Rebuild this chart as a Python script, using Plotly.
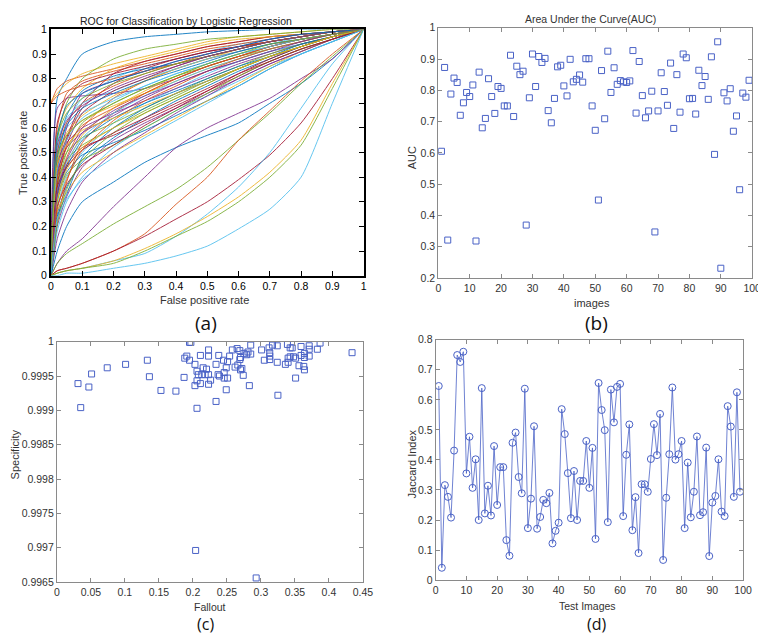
import plotly.graph_objects as go

# ---------------- data ----------------
# (a) ROC curves: TPR read at a fixed set of FPR values
roc_fpr = [0, 0.02, 0.05, 0.1, 0.2, 0.3, 0.4, 0.5, 0.6, 0.7, 0.8, 0.9, 1.0]
roc_upper = [
    [0, 0.72, 0.80, 0.90, 0.95, 0.97, 0.98, 0.99, 0.995, 1, 1, 1, 1],
    [0.70, 0.76, 0.79, 0.81, 0.84, 0.87, 0.90, 0.93, 0.95, 0.97, 0.98, 0.99, 1],
    [0.71, 0.74, 0.78, 0.82, 0.86, 0.89, 0.92, 0.95, 0.97, 0.98, 0.99, 1, 1],
    [0, 0.68, 0.72, 0.73, 0.74, 0.76, 0.80, 0.85, 0.89, 0.93, 0.96, 0.98, 1],
    [0, 0.55, 0.70, 0.80, 0.88, 0.92, 0.94, 0.96, 0.97, 0.98, 0.99, 1, 1],
    [0, 0.45, 0.62, 0.72, 0.80, 0.85, 0.88, 0.91, 0.94, 0.96, 0.98, 0.99, 1],
    [0, 0.40, 0.55, 0.68, 0.78, 0.84, 0.88, 0.91, 0.93, 0.95, 0.97, 0.99, 1],
    [0, 0.50, 0.65, 0.75, 0.81, 0.84, 0.86, 0.89, 0.92, 0.95, 0.97, 0.99, 1],
    [0, 0.35, 0.48, 0.60, 0.72, 0.79, 0.84, 0.88, 0.91, 0.94, 0.96, 0.98, 1],
    [0, 0.30, 0.45, 0.57, 0.68, 0.75, 0.81, 0.86, 0.90, 0.93, 0.96, 0.98, 1],
    [0, 0.42, 0.52, 0.58, 0.65, 0.72, 0.78, 0.83, 0.87, 0.91, 0.94, 0.97, 1],
    [0, 0.38, 0.47, 0.53, 0.60, 0.67, 0.73, 0.79, 0.84, 0.89, 0.93, 0.97, 1],
    [0, 0.28, 0.40, 0.50, 0.62, 0.70, 0.76, 0.82, 0.87, 0.91, 0.94, 0.97, 1],
    [0, 0.33, 0.45, 0.52, 0.57, 0.63, 0.69, 0.75, 0.81, 0.87, 0.92, 0.96, 1],
    [0, 0.25, 0.36, 0.46, 0.56, 0.64, 0.71, 0.77, 0.83, 0.88, 0.93, 0.97, 1],
    [0, 0.60, 0.74, 0.79, 0.83, 0.86, 0.89, 0.92, 0.94, 0.96, 0.98, 0.99, 1],
    [0, 0.48, 0.58, 0.65, 0.73, 0.79, 0.84, 0.88, 0.92, 0.95, 0.97, 0.99, 1],
    [0, 0.20, 0.32, 0.44, 0.55, 0.62, 0.68, 0.74, 0.80, 0.86, 0.91, 0.96, 1],
    [0, 0.36, 0.50, 0.62, 0.70, 0.76, 0.81, 0.85, 0.89, 0.92, 0.95, 0.98, 1],
    [0, 0.52, 0.60, 0.66, 0.72, 0.77, 0.82, 0.86, 0.90, 0.93, 0.96, 0.98, 1],
    [0, 0.44, 0.56, 0.70, 0.82, 0.87, 0.90, 0.93, 0.95, 0.97, 0.98, 0.99, 1],
    [0, 0.32, 0.42, 0.49, 0.54, 0.59, 0.65, 0.71, 0.77, 0.84, 0.90, 0.95, 1],
    [0, 0.22, 0.38, 0.54, 0.66, 0.74, 0.80, 0.85, 0.89, 0.93, 0.96, 0.98, 1],
    [0, 0.58, 0.68, 0.76, 0.84, 0.88, 0.91, 0.94, 0.96, 0.97, 0.98, 0.99, 1],
    [0, 0.46, 0.54, 0.60, 0.66, 0.71, 0.76, 0.81, 0.86, 0.90, 0.94, 0.97, 1],
    [0, 0.40, 0.50, 0.56, 0.62, 0.68, 0.74, 0.80, 0.85, 0.90, 0.94, 0.97, 1],
    [0, 0.18, 0.30, 0.40, 0.52, 0.60, 0.67, 0.73, 0.79, 0.85, 0.90, 0.95, 1],
    [0, 0.62, 0.72, 0.78, 0.82, 0.85, 0.88, 0.91, 0.93, 0.95, 0.97, 0.99, 1],
    [0, 0.34, 0.44, 0.55, 0.64, 0.70, 0.75, 0.80, 0.85, 0.89, 0.93, 0.97, 1],
    [0, 0.50, 0.62, 0.70, 0.77, 0.82, 0.86, 0.90, 0.93, 0.95, 0.97, 0.99, 1],
    [0, 0.26, 0.34, 0.42, 0.50, 0.57, 0.64, 0.71, 0.78, 0.85, 0.91, 0.96, 1],
    [0, 0.42, 0.60, 0.74, 0.79, 0.83, 0.87, 0.90, 0.93, 0.96, 0.98, 0.99, 1],
    [0, 0.30, 0.41, 0.47, 0.53, 0.60, 0.67, 0.74, 0.81, 0.87, 0.92, 0.96, 1],
    [0, 0.54, 0.64, 0.70, 0.75, 0.80, 0.84, 0.88, 0.91, 0.94, 0.97, 0.99, 1],
    [0, 0.37, 0.53, 0.66, 0.75, 0.80, 0.85, 0.89, 0.92, 0.95, 0.97, 0.99, 1],
    [0, 0.24, 0.33, 0.48, 0.60, 0.68, 0.74, 0.79, 0.84, 0.89, 0.94, 0.97, 1],
    [0.70, 0.73, 0.75, 0.77, 0.80, 0.83, 0.86, 0.89, 0.92, 0.95, 0.97, 0.99, 1],
    [0, 0.46, 0.57, 0.63, 0.69, 0.74, 0.79, 0.84, 0.88, 0.92, 0.95, 0.98, 1],
    [0, 0.15, 0.26, 0.38, 0.50, 0.58, 0.66, 0.73, 0.80, 0.86, 0.91, 0.96, 1],
    [0, 0.56, 0.66, 0.72, 0.78, 0.82, 0.86, 0.89, 0.92, 0.95, 0.97, 0.99, 1],
    [0, 0.35, 0.46, 0.56, 0.66, 0.73, 0.79, 0.84, 0.88, 0.92, 0.95, 0.98, 1],
    [0, 0.28, 0.37, 0.45, 0.53, 0.61, 0.68, 0.75, 0.82, 0.88, 0.93, 0.97, 1],
    [0, 0.48, 0.61, 0.68, 0.74, 0.79, 0.83, 0.87, 0.91, 0.94, 0.96, 0.98, 1],
    [0, 0.39, 0.52, 0.61, 0.68, 0.74, 0.80, 0.85, 0.89, 0.93, 0.96, 0.98, 1],
    [0, 0.31, 0.43, 0.52, 0.60, 0.66, 0.72, 0.78, 0.84, 0.89, 0.93, 0.97, 1],
    [0, 0.53, 0.63, 0.69, 0.76, 0.81, 0.85, 0.89, 0.92, 0.95, 0.97, 0.99, 1],
    [0, 0.21, 0.35, 0.47, 0.58, 0.66, 0.72, 0.78, 0.84, 0.89, 0.93, 0.97, 1],
    [0, 0.43, 0.55, 0.64, 0.71, 0.77, 0.82, 0.86, 0.90, 0.93, 0.96, 0.98, 1],
    [0, 0.36, 0.44, 0.51, 0.58, 0.64, 0.70, 0.76, 0.82, 0.87, 0.92, 0.96, 1],
    [0, 0.57, 0.69, 0.74, 0.79, 0.83, 0.87, 0.90, 0.93, 0.96, 0.98, 0.99, 1],
    [0, 0.27, 0.39, 0.51, 0.63, 0.71, 0.77, 0.83, 0.88, 0.92, 0.95, 0.98, 1],
    [0, 0.45, 0.53, 0.59, 0.64, 0.69, 0.74, 0.79, 0.84, 0.89, 0.93, 0.97, 1],
    [0, 0.33, 0.47, 0.58, 0.67, 0.73, 0.78, 0.83, 0.87, 0.91, 0.95, 0.98, 1],
    [0, 0.49, 0.57, 0.63, 0.70, 0.76, 0.81, 0.86, 0.90, 0.94, 0.96, 0.98, 1],
    [0, 0.23, 0.31, 0.39, 0.48, 0.56, 0.63, 0.70, 0.77, 0.84, 0.90, 0.95, 1],
]
roc_lower = [
    [0, 0.10, 0.20, 0.30, 0.38, 0.46, 0.52, 0.57, 0.62, 0.70, 0.78, 0.88, 1],
    [0, 0.05, 0.10, 0.15, 0.28, 0.40, 0.52, 0.60, 0.66, 0.72, 0.80, 0.88, 1],
    [0, 0.05, 0.09, 0.13, 0.21, 0.28, 0.35, 0.44, 0.55, 0.66, 0.78, 0.89, 1],
    [0, 0.02, 0.03, 0.05, 0.10, 0.17, 0.29, 0.40, 0.55, 0.67, 0.79, 0.90, 1],
    [0, 0.02, 0.03, 0.05, 0.10, 0.16, 0.23, 0.30, 0.39, 0.49, 0.62, 0.80, 1],
    [0, 0.01, 0.02, 0.03, 0.06, 0.09, 0.16, 0.25, 0.36, 0.50, 0.68, 0.86, 1],
    [0, 0.01, 0.02, 0.03, 0.06, 0.11, 0.17, 0.24, 0.32, 0.42, 0.55, 0.78, 1],
    [0, 0.01, 0.02, 0.03, 0.05, 0.10, 0.16, 0.22, 0.30, 0.40, 0.53, 0.76, 1],
    [0, 0.0, 0.01, 0.01, 0.03, 0.05, 0.08, 0.12, 0.19, 0.27, 0.40, 0.70, 1],
]
roc_lower_colors = ["#0072BD", "#7E2F8E", "#77AC30", "#D95319", "#A2142F",
                    "#4DBEEE", "#EDB120", "#77AC30", "#4DBEEE"]

# (b) AUC per image
auc = [0.605, 0.873, 0.321, 0.788, 0.839, 0.825, 0.720, 0.760, 0.793, 0.780,
       0.817, 0.318, 0.858, 0.680, 0.710, 0.837, 0.780, 0.726, 0.812, 0.806,
       0.750, 0.750, 0.912, 0.716, 0.877, 0.850, 0.861, 0.369, 0.776, 0.916,
       0.812, 0.908, 0.889, 0.902, 0.735, 0.696, 0.774, 0.875, 0.880, 0.814,
       0.782, 0.899, 0.827, 0.835, 0.849, 0.826, 0.901, 0.901, 0.750, 0.672,
       0.449, 0.863, 0.709, 0.925, 0.793, 0.872, 0.819, 0.831, 0.827, 0.825,
       0.830, 0.927, 0.727, 0.892, 0.783, 0.712, 0.734, 0.797, 0.347, 0.734,
       0.856, 0.796, 0.752, 0.887, 0.678, 0.850, 0.730, 0.916, 0.904, 0.773,
       0.774, 0.724, 0.864, 0.815, 0.844, 0.771, 0.907, 0.595, 0.955, 0.231,
       0.792, 0.766, 0.805, 0.669, 0.718, 0.482, 0.791, 0.778, 0.832]
auc_images = list(range(1, len(auc) + 1))

# (c) Fallout vs Specificity
fallout = [0.031, 0.035, 0.047, 0.051, 0.074, 0.101, 0.133, 0.136, 0.153, 0.175,
           0.188, 0.187, 0.191, 0.195, 0.197, 0.195, 0.203, 0.203, 0.204, 0.206,
           0.206, 0.206, 0.208, 0.211, 0.211, 0.213, 0.215, 0.218, 0.220, 0.223,
           0.223, 0.223, 0.223, 0.226, 0.234, 0.234, 0.238, 0.237, 0.239, 0.245,
           0.246, 0.246, 0.249, 0.249, 0.251, 0.251, 0.254, 0.258, 0.262, 0.265,
           0.266, 0.269, 0.269, 0.270, 0.270, 0.272, 0.274, 0.275, 0.279, 0.281,
           0.283, 0.285, 0.285, 0.293, 0.301, 0.305, 0.312, 0.313, 0.313, 0.313,
           0.317, 0.324, 0.324, 0.325, 0.336, 0.339, 0.340, 0.340, 0.343, 0.343,
           0.346, 0.348, 0.351, 0.351, 0.356, 0.359, 0.359, 0.363, 0.364, 0.364,
           0.364, 0.371, 0.371, 0.371, 0.383, 0.387, 0.434]
specificity = [0.99939, 0.99904, 0.99934, 0.99953, 0.99962, 0.99967, 0.99973, 0.99949, 0.99929, 0.99928,
               0.99976, 0.99948, 0.99979, 0.99999, 0.99999, 0.99973, 0.99967, 0.99936, 0.99696, 0.99957,
               0.99943, 0.99903, 0.99952, 0.99980, 0.99939, 0.99952, 0.99962, 0.99952, 0.99960, 0.99988,
               0.99979, 0.99952, 0.99938, 0.99944, 0.99967, 0.99913, 0.99980, 0.99952, 0.99950, 0.99973,
               0.99955, 0.99947, 0.99962, 0.99930, 0.99971, 0.99947, 0.99979, 0.99988, 0.99963, 0.99990,
               0.99966, 0.99974, 0.99987, 0.99977, 0.99959, 0.99961, 0.99951, 0.99983, 0.99981, 0.99985,
               0.99936, 0.99995, 0.99982, 0.99656, 0.99988, 0.99973, 0.99991, 0.99974, 0.99984, 0.99979,
               0.99995, 0.99994, 0.99970, 0.99922, 0.99967, 0.99996, 0.99976, 0.99970, 0.99991, 0.99978,
               0.99991, 0.99978, 0.99976, 0.99947, 0.99965, 0.99993, 0.99980, 0.99964, 0.99959, 0.99977,
               0.99983, 0.99994, 0.99989, 0.99979, 0.99989, 0.99998, 0.99984]
spec_ticks = [0.9965, 0.997, 0.9975, 0.998, 0.9985, 0.999, 0.9995, 1]
spec_ticktext = ["0.9965", "0.997", "0.9975", "0.998", "0.9985", "0.999", "0.9995", "1"]

# (d) Jaccard index per test image
jaccard = [0.646, 0.041, 0.316, 0.277, 0.208, 0.431, 0.749, 0.726, 0.760, 0.355,
           0.477, 0.307, 0.402, 0.200, 0.639, 0.222, 0.314, 0.215, 0.446, 0.250,
           0.376, 0.376, 0.133, 0.081, 0.457, 0.491, 0.343, 0.289, 0.637, 0.173,
           0.271, 0.512, 0.171, 0.210, 0.267, 0.256, 0.290, 0.122, 0.164, 0.191,
           0.569, 0.486, 0.356, 0.206, 0.363, 0.200, 0.330, 0.330, 0.463, 0.307,
           0.440, 0.137, 0.656, 0.566, 0.499, 0.193, 0.634, 0.525, 0.643, 0.653,
           0.213, 0.417, 0.518, 0.166, 0.276, 0.090, 0.319, 0.319, 0.294, 0.403,
           0.519, 0.416, 0.553, 0.067, 0.274, 0.419, 0.641, 0.401, 0.419, 0.463,
           0.173, 0.391, 0.209, 0.294, 0.478, 0.216, 0.226, 0.441, 0.080, 0.258,
           0.280, 0.402, 0.228, 0.213, 0.579, 0.511, 0.277, 0.625, 0.294]
test_images = list(range(1, len(jaccard) + 1))

# ---------------- styling ----------------
W, H = 766, 635
MATLAB_COLORS = ["#0072BD", "#D95319", "#EDB120", "#7E2F8E", "#77AC30", "#4DBEEE", "#A2142F"]
MARKER_BLUE = "#4a62c6"
GRAY = "#8a8a8a"
FONT = "Liberation Sans"


def px_dom_x(a, b):
    return [a / W, b / W]


def px_dom_y(top, bottom):
    return [1 - bottom / H, 1 - top / H]


fig = go.Figure()

for i, tpr in enumerate(roc_upper):
    fig.add_trace(go.Scatter(x=roc_fpr, y=tpr, mode="lines", xaxis="x", yaxis="y",
                             line=dict(color=MATLAB_COLORS[i % 7], width=1,
                                       shape="spline", smoothing=0.6),
                             opacity=0.85))
for tpr, c in zip(roc_lower, roc_lower_colors):
    fig.add_trace(go.Scatter(x=roc_fpr, y=tpr, mode="lines", xaxis="x", yaxis="y",
                             line=dict(color=c, width=1, shape="spline", smoothing=0.6),
                             opacity=0.85))

fig.add_trace(go.Scatter(x=auc_images, y=auc, mode="markers", xaxis="x2", yaxis="y2",
                         marker=dict(symbol="square-open", size=6, color=MARKER_BLUE,
                                     line=dict(width=1))))
fig.add_trace(go.Scatter(x=fallout, y=specificity, mode="markers", xaxis="x3", yaxis="y3",
                         marker=dict(symbol="square-open", size=6, color=MARKER_BLUE,
                                     line=dict(width=1))))
fig.add_trace(go.Scatter(x=test_images, y=jaccard, mode="lines+markers", xaxis="x4", yaxis="y4",
                         line=dict(color=MARKER_BLUE, width=0.8),
                         marker=dict(symbol="circle-open", size=7, color=MARKER_BLUE,
                                     line=dict(width=1))))

black_axis = dict(showline=True, linecolor="black", linewidth=2, mirror="ticks",
                  ticks="inside", ticklen=5, tickcolor="black", showgrid=False,
                  zeroline=False, tickfont=dict(family=FONT, size=10.5, color="black"))
gray_axis = dict(showline=True, linecolor=GRAY, linewidth=1, mirror="ticks",
                 ticks="inside", ticklen=4, tickcolor=GRAY, showgrid=False,
                 zeroline=False, tickfont=dict(family=FONT, size=10.5, color="#333333"))

fig.update_layout(
    width=W, height=H, margin=dict(l=0, r=0, t=0, b=0),
    paper_bgcolor="white", plot_bgcolor="white", showlegend=False,
    xaxis=dict(black_axis, domain=px_dom_x(40.7, 358.7), range=[0, 1], dtick=0.1,
               anchor="y"),
    yaxis=dict(black_axis, domain=px_dom_y(15.7, 266.7), range=[0, 1], dtick=0.1,
               anchor="x"),
    xaxis2=dict(gray_axis, domain=px_dom_x(434.7, 754), range=[0, 100], dtick=10,
                anchor="y2"),
    yaxis2=dict(gray_axis, domain=px_dom_y(14, 269), range=[0.2, 1], dtick=0.1,
                anchor="x2"),
    xaxis3=dict(gray_axis, domain=px_dom_x(46.7, 358), range=[0, 0.45], dtick=0.05,
                anchor="y3"),
    yaxis3=dict(gray_axis, domain=px_dom_y(334, 579), range=[0.9965, 1],
                tickvals=spec_ticks, ticktext=spec_ticktext, anchor="x3"),
    xaxis4=dict(gray_axis, domain=px_dom_x(432, 744.7), range=[0, 100], dtick=10,
                anchor="y4"),
    yaxis4=dict(gray_axis, domain=px_dom_y(332, 577), range=[0, 0.8], dtick=0.1,
                anchor="x4"),
)


def label(text, x, y, size=11, color="#333333", angle=0, family=FONT):
    fig.add_annotation(text=text, x=x / W, y=1 - y / H, xref="paper", yref="paper",
                       showarrow=False, textangle=angle, xanchor="center", yanchor="middle",
                       borderpad=0, font=dict(family=family, size=size, color=color))


label("ROC for Classification by Logistic Regression", 178, 7, size=10.5, color="#222222")
label("False positive rate", 197, 292)
label("True positive rate", 13, 141, angle=-90)
label("Area Under the Curve(AUC)", 590, 5, size=10.5)
label("images", 591, 295)
label("AUC", 408, 147, angle=-90)
label("Fallout", 202, 604, size=10.5)
label("Specificity", 4, 449, angle=-90)
label("Test Images", 586, 603, size=10.5)
label("Jaccard Index", 408, 459, angle=-90)

label("(a)", 198, 315, size=19, color="#111111", family="Open Sans")
label("(b)", 596, 315, size=19, color="#111111", family="Open Sans")
label("(c)", 198, 622, size=16, color="#111111", family="Open Sans")
label("(d)", 596, 622, size=16, color="#111111", family="Open Sans")

fig.write_html("out.html")
